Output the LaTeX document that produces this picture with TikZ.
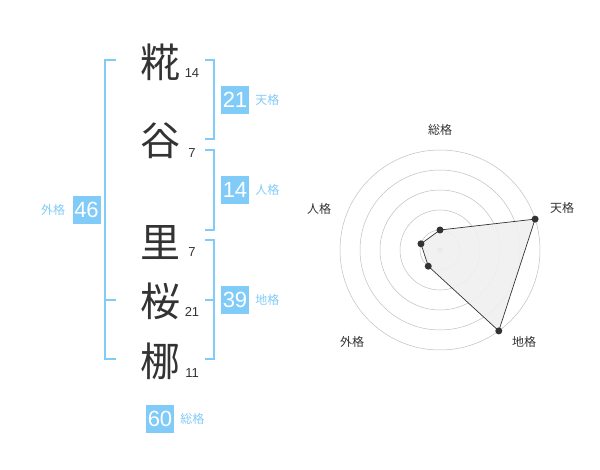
\documentclass[tikz,border=0pt]{standalone}
\usepackage{fontspec}
\setmainfont{Liberation Sans}
\newfontfamily\jp{Noto Sans CJK JP}
\usetikzlibrary{positioning,calc}
\definecolor{ink}{HTML}{333333}
\definecolor{sky}{HTML}{80CBF8}
\begin{document}
\begin{tikzpicture}[x=1pt,y=-1pt,
	kanji/.style={font=\jp\fontsize{40}{40}\selectfont, text=ink, inner sep=0pt},
	strokes/.style={font=\fontsize{13}{13}\selectfont, text=ink, inner sep=0pt},
	score/.style={fill=sky, text=white, font=\fontsize{22}{22}\selectfont, minimum size=28pt, inner sep=0pt},
	kaku/.style={font=\jp\fontsize{12}{12}\selectfont, text=sky, inner sep=0pt},
	axislabel/.style={font=\jp\fontsize{12}{12}\selectfont, text=ink, inner sep=0pt},
	brace/.style={draw=sky, line width=1.5pt},
	ring/.style={draw=black!25, line width=0.5pt},
	dot/.style={circle, fill=ink, inner sep=0pt, minimum size=7pt}]
	\useasboundingbox (0,0) rectangle (600,470);

	% name
	\node[kanji] at (160,62) (k1) {糀};
	\node[kanji] at (160,141) (k2) {谷};
	\node[kanji] at (160,243) (k3) {里};
	\node[kanji] at (160,301) (k4) {桜};
	\node[kanji] at (160,361) (k5) {梛};

	\node[strokes] at (192,73) (s1) {14};
	\node[strokes] at (192,153) (s2) {7};
	\node[strokes] at (192,252) (s3) {7};
	\node[strokes] at (192,312) (s4) {21};
	\node[strokes] at (192,373) (s5) {11};

	% brackets
	\draw[brace] (116,60) -- (105,60) -- (105,359) -- (116,359);
	\draw[brace] (105,300) -- (116,300);
	\draw[brace] (205,60) -- (214,60) -- (214,139) -- (205,139);
	\draw[brace] (205,150) -- (214,150) -- (214,230) -- (205,230);
	\draw[brace] (205,240) -- (214,240) -- (214,359) -- (205,359);
	\draw[brace] (205,300) -- (214,300);

	% scores
	\node[score] at (235,100) (ten) {21};
	\node[score] at (235,190) (jin) {14};
	\node[score] at (235,300) (chi) {39};
	\node[score] at (86.5,210) (gai) {46};
	\node[score] at (160,419) (sou) {60};

	\node[kaku, right=6pt of ten] (tenl) {天格};
	\node[kaku, right=6pt of jin] (jinl) {人格};
	\node[kaku, right=6pt of chi] (chil) {地格};
	\node[kaku, left=7pt of gai] (gail) {外格};
	\node[kaku, right=6pt of sou] (soul) {総格};

	% radar
	\coordinate (c) at (440,250);
	\foreach \r in {20,40,...,100}
		\draw[ring] (c) circle (\r pt);
	\fill[black!22] (c) circle (3pt);

	\coordinate (p1) at ($(c)+(-90:20)$);
	\coordinate (p2) at ($(c)+(-18:100)$);
	\coordinate (p3) at ($(c)+(54:100)$);
	\coordinate (p4) at ($(c)+(126:20)$);
	\coordinate (p5) at ($(c)+(198:20)$);
	\draw[ink, line width=0.7pt, fill=black!6, fill opacity=0.9] (p1) -- (p2) -- (p3) -- (p4) -- (p5) -- cycle;
	\foreach \p in {p1,p2,p3,p4,p5}
		\node[dot] at (\p) {};

	\node[axislabel] at (440,130) (a1) {総格};
	\node[axislabel] at (562,208) (a2) {天格};
	\node[axislabel] at (524,342) (a3) {地格};
	\node[axislabel] at (352,342) (a4) {外格};
	\node[axislabel] at (319,209) (a5) {人格};
\end{tikzpicture}
\end{document}
